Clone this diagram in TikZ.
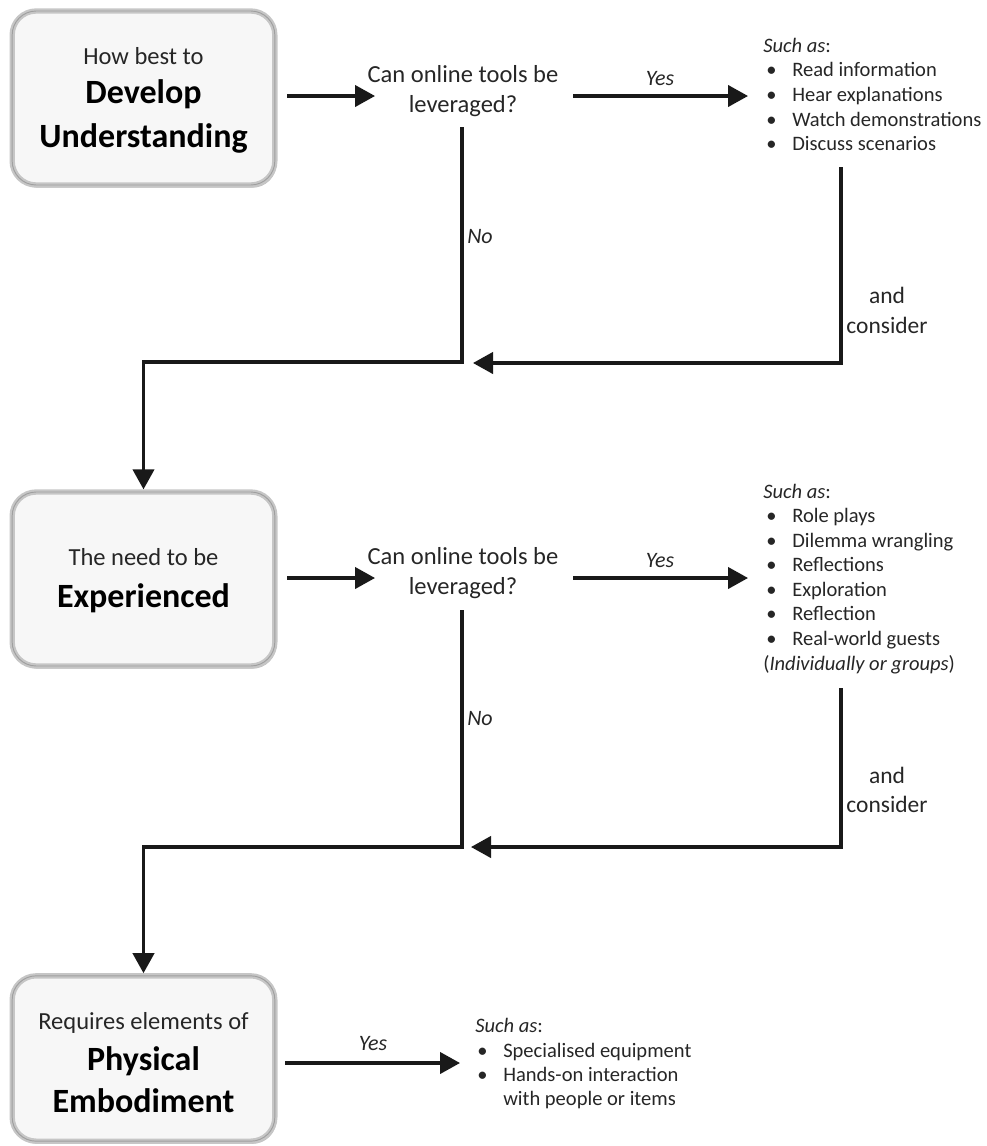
\documentclass[tikz,border=0pt]{standalone}
\usepackage{fontspec}
\setmainfont{Carlito}
\usetikzlibrary{arrows.meta,calc}
\begin{document}
\begin{tikzpicture}[x=0.75pt,y=-0.75pt,
  conn/.style={draw=black!90, line width=2.3pt},
  arr/.style={conn, -{Triangle[length=15pt,width=16pt]}},
  box/.style={rounded corners=18pt, fill=gray!6, draw=gray!45, line width=4pt,
    minimum width=197pt, inner sep=0pt,
    preaction={fill=gray!50, transform canvas={xshift=1.2pt,yshift=-2pt}},
    postaction={draw=gray!75, line width=0.7pt}},
  small/.style={font=\fontsize{18.4}{22}\selectfont, inner sep=0pt, anchor=base, text=black!85},
  big/.style={font=\fontsize{25.5}{30}\selectfont\bfseries, inner sep=0pt, anchor=base, text=black},
  lst/.style={font=\fontsize{15.4}{18.75}\selectfont, inner sep=0pt, anchor=base west, text=black!85},
  lab/.style={font=\fontsize{16.5}{20}\selectfont\itshape, inner sep=0pt, text=black!85},
  cons/.style={font=\fontsize{17.6}{21}\selectfont, inner sep=0pt, anchor=base, text=black!85}]
\useasboundingbox (0,0) rectangle (987,1146);

% ---------- boxes ----------
\node[box, minimum height=130.5pt] (b1) at (143.5,98) {};
\node[box, minimum height=130.5pt] (b2) at (143.5,579) {};
\node[box, minimum height=124pt] (b3) at (143.5,1058.5) {};

\node[small] (b1a) at (143.5,64) {How best to};
\node[big] (b1b) at (143.5,103) {Develop};
\node[big] (b1c) at (143.5,147) {Understanding};

\node[small] (b2a) at (143.5,565) {The need to be};
\node[big] (b2b) at (143.5,607) {Experienced};

\node[small] (b3a) at (143.5,1029) {Requires elements of};
\node[big] (b3b) at (143.5,1070) {Physical};
\node[big] (b3c) at (143.5,1112) {Embodiment};

% ---------- questions ----------
\node[small] (q1a) at (463,82) {Can online tools be};
\node[small] (q1b) at (463,112) {leveraged?};
\node[small] (q2a) at (463,564) {Can online tools be};
\node[small] (q2b) at (463,594) {leveraged?};

% ---------- labels ----------
\node[lab, anchor=base] (y1) at (660,85) {Yes};
\node[lab, anchor=base] (y2) at (660,567) {Yes};
\node[lab, anchor=base] (y3) at (373,1050) {Yes};
\node[lab, anchor=base west] (n1) at (467,243) {No};
\node[lab, anchor=base west] (n2) at (467,725) {No};
\node[cons] (c1a) at (887,303) {and};
\node[cons] (c1b) at (887,333) {consider};
\node[cons] (c2a) at (887,783) {and};
\node[cons] (c2b) at (887,812) {consider};

% ---------- lists ----------
\node[lst] (l1h) at (763,52) {\textit{Such as}:};
\node[lst] (l1p1) at (766,76) {•}; \node[lst] (l1t1) at (792,76) {Read information};
\node[lst] (l1p2) at (766,101) {•}; \node[lst] (l1t2) at (792,101) {Hear explanations};
\node[lst] (l1p3) at (766,126) {•}; \node[lst] (l1t3) at (792,126) {Watch demonstrations};
\node[lst] (l1p4) at (766,150) {•}; \node[lst] (l1t4) at (792,150) {Discuss scenarios};

\node[lst] (l2h) at (763,498) {\textit{Such as}:};
\node[lst] (l2p1) at (766,522) {•}; \node[lst] (l2t1) at (792,522) {Role plays};
\node[lst] (l2p2) at (766,547) {•}; \node[lst] (l2t2) at (792,547) {Dilemma wrangling};
\node[lst] (l2p3) at (766,571) {•}; \node[lst] (l2t3) at (792,571) {Reflections};
\node[lst] (l2p4) at (766,596) {•}; \node[lst] (l2t4) at (792,596) {Exploration};
\node[lst] (l2p5) at (766,620) {•}; \node[lst] (l2t5) at (792,620) {Reflection};
\node[lst] (l2p6) at (766,645) {•}; \node[lst] (l2t6) at (792,645) {Real-world guests};
\node[lst] (l2t7) at (763,670) {(\textit{Individually or groups})};

\node[lst] (l3h) at (475,1032) {\textit{Such as}:};
\node[lst] (l3p1) at (477,1057) {•}; \node[lst] (l3t1) at (503,1057) {Specialised equipment};
\node[lst] (l3p2) at (477,1081) {•}; \node[lst] (l3t2) at (503,1081) {Hands-on interaction};
\node[lst] (l3t3) at (503,1105) {with people or items};

% ---------- connector end points ----------
\coordinate (a1s) at (287,96);  \coordinate (a1e) at (375,96);
\coordinate (y1s) at (573,96);  \coordinate (y1e) at (748,96);
\coordinate (n1s) at (462,127); \coordinate (n1m) at (462,362);
\coordinate (k1s) at (841,167); \coordinate (k1m) at (841,363); \coordinate (k1e) at (473,363);

\coordinate (a2s) at (287,578);  \coordinate (a2e) at (375,578);
\coordinate (y2s) at (573,578);  \coordinate (y2e) at (748,578);
\coordinate (n2s) at (462,610); \coordinate (n2m) at (462,847);
\coordinate (k2s) at (841,688); \coordinate (k2m) at (841,847); \coordinate (k2e) at (471,847);

\coordinate (y3s) at (285,1063); \coordinate (y3e) at (460,1063);

% ---------- connectors ----------
\draw[arr] (a1s) -- (a1e);
\draw[arr] (y1s) -- (y1e);
\draw[arr] (n1s) -- (n1m) -| (b2.north);
\draw[arr] (k1s) -- (k1m) -- (k1e);

\draw[arr] (a2s) -- (a2e);
\draw[arr] (y2s) -- (y2e);
\draw[arr] (n2s) -- (n2m) -| (b3.north);
\draw[arr] (k2s) -- (k2m) -- (k2e);

\draw[arr] (y3s) -- (y3e);
\end{tikzpicture}
\end{document}
